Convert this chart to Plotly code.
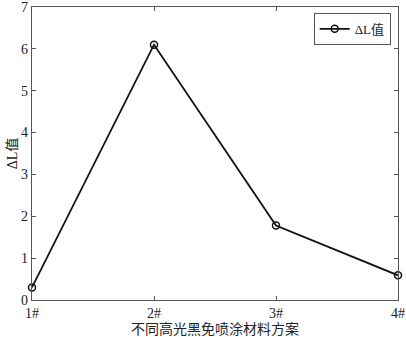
import plotly.graph_objects as go

categories = ["1#", "2#", "3#", "4#"]
x_pos = [1, 2, 3, 4]
delta_l = [0.30, 6.10, 1.78, 0.59]
y_ticks = [0, 1, 2, 3, 4, 5, 6, 7]

font_fam = "Liberation Serif, Times New Roman, Noto Sans CJK SC, serif"

fig = go.Figure()
fig.add_trace(go.Scatter(
    x=x_pos, y=delta_l, mode="lines+markers", name="ΔL值",
    line=dict(color="#111111", width=1.8),
    marker=dict(symbol="circle-open", size=7, color="#111111", line=dict(width=1.5)),
    cliponaxis=False,
))

axis_common = dict(
    showline=True, linecolor="#555555", linewidth=1.2, mirror="ticks",
    ticks="inside", ticklen=4, tickcolor="#555555", tickwidth=1,
    showgrid=False, zeroline=False, automargin=False,
    ticklabeloverflow="allow",
    tickfont=dict(family=font_fam, size=14, color="#222222"),
)

fig.update_layout(
    width=406, height=337,
    margin=dict(l=32, r=8, t=7, b=37),
    paper_bgcolor="white", plot_bgcolor="white",
    font=dict(family=font_fam, size=14, color="#222222"),
    xaxis=dict(range=[1, 4], tickvals=x_pos, ticktext=categories,
               title=dict(text="不同高光黑免喷涂材料方案", font=dict(size=14), standoff=9),
               **axis_common),
    yaxis=dict(range=[0, 7], tickvals=y_ticks,
               title=dict(text="ΔL值", font=dict(size=14), standoff=0),
               **axis_common),
    showlegend=True,
    legend=dict(x=0.98, y=0.98, xanchor="right", yanchor="top",
                bordercolor="#555555", borderwidth=1, bgcolor="white",
                font=dict(family=font_fam, size=13),
                itemwidth=30, tracegroupgap=0),
)

fig.write_html("out.html")
